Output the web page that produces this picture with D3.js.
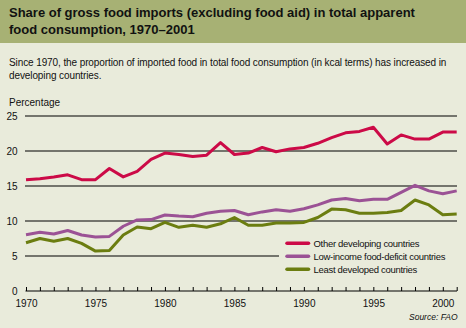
<!DOCTYPE html>
<html><head><meta charset="utf-8">
<script src="https://cdn.jsdelivr.net/npm/d3@7"></script>
<style>body{margin:0;background:#e9ebdb;}svg{display:block;font-family:"Liberation Sans",Arial,sans-serif;}</style>
</head><body>
<script>
const years = d3.range(1970, 2002);
const otherDeveloping = [15.9,16.05,16.3,16.6,15.9,15.9,17.5,16.3,17.1,18.8,19.7,19.5,19.2,19.4,21.2,19.5,19.7,20.5,19.9,20.3,20.5,21.1,21.9,22.6,22.8,23.4,21.0,22.3,21.7,21.7,22.7,22.7];
const lowIncome = [8.05,8.4,8.15,8.65,8.0,7.7,7.8,9.25,10.15,10.2,10.85,10.7,10.6,11.1,11.4,11.5,10.9,11.3,11.6,11.4,11.75,12.3,13.0,13.2,12.9,13.1,13.1,14.1,15.1,14.3,13.9,14.3];
const leastDeveloped = [6.9,7.5,7.1,7.5,6.8,5.7,5.8,8.0,9.15,8.9,9.8,9.1,9.4,9.1,9.6,10.5,9.4,9.4,9.7,9.7,9.8,10.5,11.7,11.6,11.1,11.1,11.2,11.5,13.0,12.3,10.9,11.0];
const seriesNames = ["Other developing countries","Low-income food-deficit countries","Least developed countries"];
const seriesColors = ["#cc0a47","#9b5295","#6b7d10"];
const yTicks = [0,5,10,15,20,25];
const xTickLabels = [1970,1975,1980,1985,1990,1995,2000];

const W=466,H=328;
const svg=d3.select("body").append("svg").attr("width",W).attr("height",H);
svg.append("rect").attr("width",W).attr("height",H).attr("fill","#e9ebdb");
svg.append("rect").attr("width",W).attr("height",43).attr("fill","#a7b174");

const title=svg.append("text").attr("font-weight","bold").attr("font-size",13).attr("fill","#111");
title.append("tspan").attr("x",9).attr("y",17).text("Share of gross food imports (excluding food aid) in total apparent");
title.append("tspan").attr("x",9).attr("y",33.5).text("food consumption, 1970–2001");

const sub=svg.append("text").attr("font-size",10).attr("fill","#111").attr("letter-spacing",-0.1);
sub.append("tspan").attr("x",9).attr("y",65.5).text("Since 1970, the proportion of imported food in total food consumption (in kcal terms) has increased in");
sub.append("tspan").attr("x",9).attr("y",78.5).text("developing countries.");

svg.append("text").attr("x",9).attr("y",105.5).attr("font-size",10).attr("fill","#111").text("Percentage");

const x=d3.scaleLinear().domain([1970,2001]).range([26,456.7]);
const y=d3.scaleLinear().domain([0,25]).range([291,116]);

// gridlines
svg.append("g").selectAll("line").data(yTicks.filter(d=>d>0)).join("line")
 .attr("x1",25).attr("x2",457).attr("y1",d=>y(d)).attr("y2",d=>y(d))
 .attr("stroke","#000").attr("stroke-width",1.2);

// y labels
svg.append("g").selectAll("text").data(yTicks).join("text")
 .attr("x",17.5).attr("y",d=>y(d)+3.5).attr("text-anchor","end").attr("font-size",10).attr("fill","#111").text(d=>d);

// x axis
const xAxis=d3.axisBottom(x).tickValues(years).tickSize(-4).tickFormat(d=>xTickLabels.includes(d)?d:"").tickPadding(9);
const gx=svg.append("g").attr("transform",`translate(0,${y(0)})`).call(xAxis);
gx.select(".domain").attr("stroke","#000").attr("stroke-width",1.2).attr("d",`M25.5,0H457`);
gx.selectAll(".tick line").attr("stroke","#000").attr("stroke-width",1);
gx.selectAll(".tick text").attr("font-size",10).attr("fill","#111").attr("font-family","Liberation Sans, Arial, sans-serif");

// legend backdrop
svg.append("rect").attr("x",279).attr("y",233).attr("width",180).attr("height",44).attr("fill","#e9ebdb");

const line=d3.line().x((d,i)=>x(years[i])).y(d=>y(d));
[otherDeveloping,lowIncome,leastDeveloped].forEach((s,i)=>{
  svg.append("path").attr("d",line(s)).attr("fill","none").attr("stroke",seriesColors[i]).attr("stroke-width",3).attr("stroke-linejoin","round");
});

const lg=svg.append("g");
seriesNames.forEach((n,i)=>{
  const yy=243.3+i*13;
  lg.append("line").attr("x1",287).attr("x2",308.5).attr("y1",yy).attr("y2",yy).attr("stroke",seriesColors[i]).attr("stroke-width",3.5).attr("stroke-linecap","round");
  lg.append("text").attr("x",313.5).attr("y",yy+3.5).attr("font-size",9.5).attr("letter-spacing",-0.3).attr("fill","#111").text(n);
});

svg.append("text").attr("x",457.5).attr("y",319.5).attr("text-anchor","end").attr("font-size",8.5).attr("font-style","italic").attr("fill","#111").text("Source: FAO");
</script>
</body></html>
